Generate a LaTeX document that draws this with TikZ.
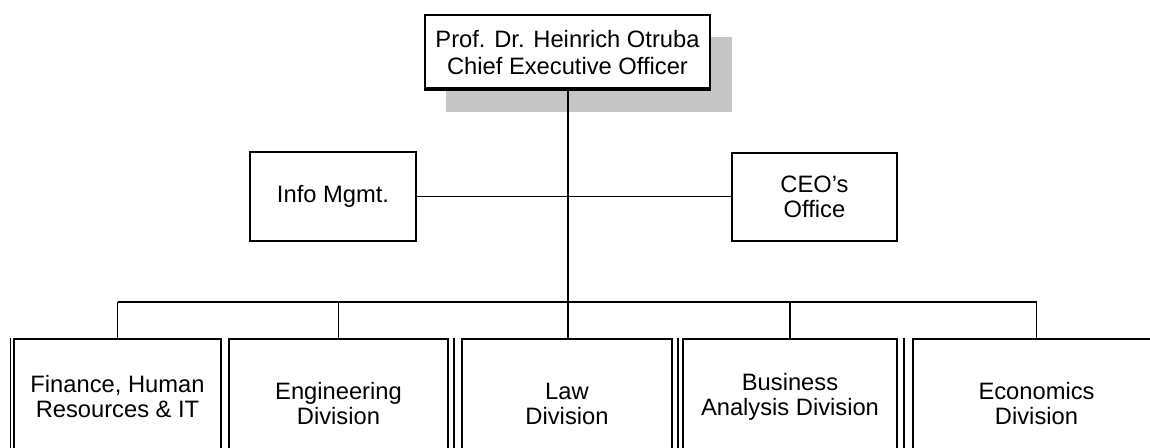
\documentclass[tikz,border=0pt]{standalone}
\usepackage{fontspec}
\setmainfont{Liberation Sans}
\usetikzlibrary{positioning,calc}

\begin{document}
\begin{tikzpicture}[
    x=0.02cm, y=-0.02cm,
    head/.style={rectangle, draw, fill=white, line width=1.3pt, minimum width=5.7cm, minimum height=1.5cm, align=center, font=\fontsize{13.5}{15.3}\selectfont},
    staff/.style={rectangle, draw, fill=white, line width=1.3pt, minimum height=1.77cm, align=center, font=\fontsize{13.5}{14.2}\selectfont},
    division/.style={rectangle, draw, fill=white, line width=1.3pt, align=center, font=\fontsize{13.5}{14.2}\selectfont},
    extra/.style={line width=0.8pt},
    link/.style={line width=1pt}
]
    \useasboundingbox (0,0) rectangle (1150,448);

    % Schatten
    \fill[gray!45] (446,37) rectangle (732,112);

    % Leitung
    \node[head] (chief) at (567.5,52.5) {Prof. Dr. Heinrich Otruba\\Chief Executive Officer};
    \draw[extra] ([yshift=0.06cm]chief.south west) -- ([yshift=0.06cm]chief.south east);

    % Stab
    \node[staff, minimum width=3.32cm] (info) at (333,196.5) {Info Mgmt.};
    \node[staff, minimum width=3.3cm] (office) at (814.5,197) {CEO’s\\Office};

    % Bereiche
    \node[division, minimum width=4.14cm, minimum height=2.32cm] (fin) at (117.5,397) {Finance, Human\\Resources \& IT};
    \node[division, minimum width=4.38cm, minimum height=2.6cm] (eng) at (338.5,404) {Engineering\\Division};
    \node[division, minimum width=4.2cm, minimum height=2.6cm] (law) at (567,404) {Law\\Division};
    \node[division, minimum width=4.28cm, minimum height=2.32cm] (bus) at (790,397) {Business\\Analysis Division};
    \node[division, minimum width=4.94cm, minimum height=2.6cm] (eco) at (1036.5,404) {Economics\\Division};

    % Doppelkanten
    \draw[extra] ([xshift=-0.05cm]fin.north west) -- ([xshift=-0.05cm]fin.south west);
    \draw[extra] ([xshift=0.1cm]eng.north east) -- ([xshift=0.1cm]eng.south east);
    \draw[extra] ([xshift=-0.08cm]bus.north west) -- ([xshift=-0.08cm]bus.south west);
    \draw[extra] ([xshift=-0.16cm]eco.north west) -- ([xshift=-0.16cm]eco.south west);

    % Linien
    \coordinate (rail) at (568,302);
    \draw[link] (chief.south -| rail) -- (law.north -| rail);
    \draw[link] (info.east) -- (info.east -| office.west);
    \draw[link] (fin.north |- rail) -- (eco.north |- rail);
    \draw[link] (fin.north |- rail) -- (fin.north);
    \draw[link] (eng.north |- rail) -- (eng.north);
    \draw[link] (bus.north |- rail) -- (bus.north);
    \draw[link] (eco.north |- rail) -- (eco.north);

\end{tikzpicture}
\end{document}
